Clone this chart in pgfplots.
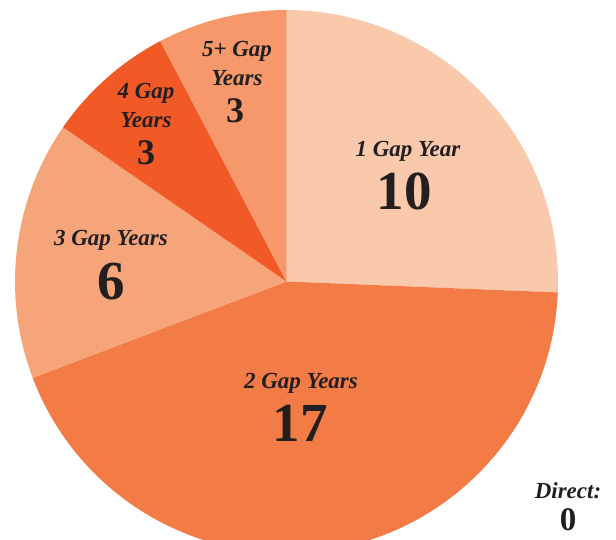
\documentclass[border=0pt]{standalone}
\usepackage{pgfplots}
\usepackage{pgfplotstable}
\usepackage{fontspec}
\setmainfont{Liberation Serif}
\pgfplotsset{compat=1.18}
\definecolor{cA}{HTML}{FAC8AA}
\definecolor{cB}{HTML}{F37B45}
\definecolor{cC}{HTML}{F6A57B}
\definecolor{cD}{HTML}{F15A27}
\definecolor{cE}{HTML}{F6986B}
\definecolor{cF}{HTML}{F6986B}
\definecolor{txt}{HTML}{231F20}
\pgfplotstableread{
value colour
10 cA
17 cB
6 cC
3 cD
3 cE
0 cF
}\piedata
\newcommand{\lab}{\fontsize{23}{27}\selectfont\bfseries\itshape}
\newcommand{\bignum}{\fontsize{55}{60}\selectfont\bfseries}
\newcommand{\smallnum}{\fontsize{36}{40}\selectfont\bfseries}
\newcommand{\tinynum}{\fontsize{33}{36}\selectfont\bfseries}
\begin{document}
\begin{tikzpicture}
\begin{axis}[
  scale only axis, width=616pt, height=539pt,
  xmin=0, xmax=616, ymin=0, ymax=539,
  hide axis, clip=true,
]
\pgfplotsextra{%
  \gdef\pietotal{0}%
  \pgfplotstableforeachcolumnelement{value}\of\piedata\as\v{%
    \pgfmathsetmacro\t{\pietotal+\v}\xdef\pietotal{\t}}%
  \gdef\pieangle{90}%
  \pgfplotstableforeachcolumnelement{value}\of\piedata\as\v{%
    \pgfplotstablegetelem{\pgfplotstablerow}{colour}\of\piedata
    \let\piecol\pgfplotsretval
    \pgfmathsetmacro\sweep{360*\v/\pietotal}%
    \pgfmathsetmacro\endang{\pieangle-\sweep}%
    \fill[\piecol] (axis cs:286.5,257.5) -- ++(\pieangle:271.5pt) arc[start angle=\pieangle, end angle=\endang, radius=271.5pt] -- cycle;
    \xdef\pieangle{\endang}%
  }%
}
\begin{scope}[every node/.style={text=txt, inner sep=0pt, anchor=base}]
\node at (axis cs:408,382) {\lab 1 Gap Year};
\node at (axis cs:404,329) {\bignum 10};
\node at (axis cs:301,151) {\lab 2 Gap Years};
\node at (axis cs:300,98) {\bignum 17};
\node at (axis cs:111,293) {\lab 3 Gap Years};
\node at (axis cs:111,240) {\bignum 6};
\node at (axis cs:146,440) {\lab 4 Gap};
\node at (axis cs:146,411) {\lab Years};
\node at (axis cs:146,374) {\smallnum 3};
\node at (axis cs:237,482) {\lab 5+ Gap};
\node at (axis cs:237,453) {\lab Years};
\node at (axis cs:235,416) {\smallnum 3};
\node at (axis cs:568,41) {\lab Direct:};
\node at (axis cs:568,9) {\tinynum 0};
\end{scope}
\end{axis}
\pgfresetboundingbox
\useasboundingbox (0,0) rectangle (616pt,539pt);
\end{tikzpicture}
\end{document}
